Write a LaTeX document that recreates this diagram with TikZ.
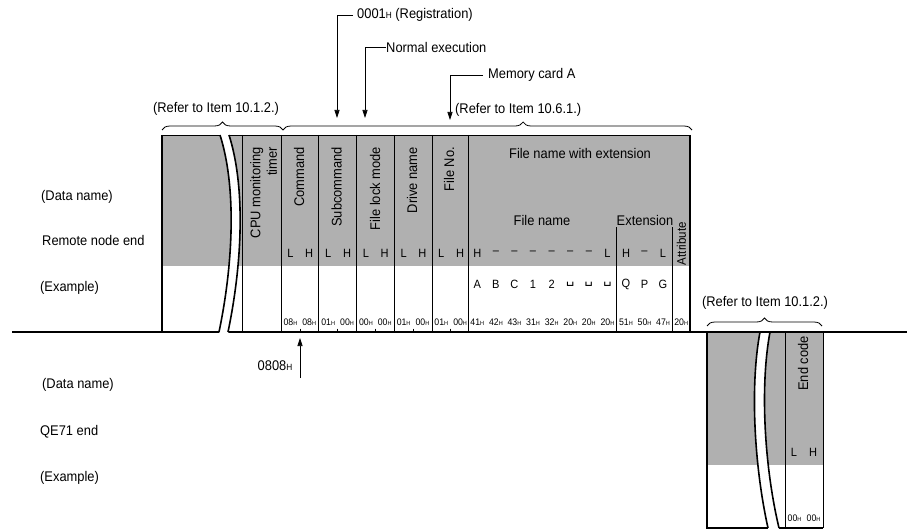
\documentclass[tikz,border=0pt]{standalone}
\usepackage{fontspec}
\setmainfont{Liberation Sans}[FakeStretch=0.92]
\newfontfamily\vsfont{DejaVu Sans}
\usetikzlibrary{arrows.meta,decorations.pathreplacing}
\newcommand\fs[1]{\fontsize{#1}{#1}\selectfont}
\newcommand\bigH{{\fs{9}H}}
\newcommand\hx[1]{#1{\fs{6}H}}
\newcommand\vsp{{\vsfont\fs{13}␣}}
\tikzset{
  rottxt/.style={rotate=90, anchor=east},
  lhtxt/.style={font=\fs{12}},
  hextxt/.style={font=\fs{9.5}},
  thinln/.style={line width=0.7pt},
  thickln/.style={line width=1.6pt},
  shade/.style={fill=black!31},
  arr/.style={line width=0.7pt, -{Triangle[length=8pt,width=5pt]}},
  brc/.style={decorate, line width=0.8pt},
}
\begin{document}
\begin{tikzpicture}[x=1pt,y=-1pt, every node/.style={inner sep=0pt, font=\fs{14}}]
\useasboundingbox (0,0) rectangle (907,532);

% ---------- shading ----------
\fill[shade] (161.7,135) rectangle (690,266);
\fill[shade] (707,332) rectangle (823,465);

% ---------- main line ----------
\draw[thickln] (12,332) -- (907,332);

% ---------- break gaps ----------
\fill[white] (220,135) .. controls (236,185) and (234,260) .. (219,334) -- (228,334) .. controls (243,260) and (245,185) .. (229,135) -- cycle;
\fill[white] (760,333) .. controls (750,385) and (754,465) .. (768,530) -- (779,530) .. controls (764,465) and (760,385) .. (770,333) -- cycle;

% ---------- main table ----------
\draw[thickln] (161.7,135) -- (161.7,332);
\draw[thickln] (690,135) -- (690,332);
\draw[thinln] (161.7,135) -- (220,135) (229,135) -- (690,135);
\foreach \x in {242.7,281,318.8,356.5,394.2,431.9,468}
  \draw[thinln] (\x,135) -- (\x,332);
\draw[thinln] (616.7,227) -- (616.7,332) (672.3,227) -- (672.3,332);
\draw[thickln] (220,135) .. controls (236,185) and (234,260) .. (219,332);
\draw[thickln] (229,135) .. controls (245,185) and (243,260) .. (228,332);
\foreach \x in {299.9,337.7,375.4,413.1,450}
  \draw[line width=0.5pt] (\x,328.5) -- (\x,332);

% ---------- QE71 table ----------
\draw[thickln] (707,332) -- (707,528) -- (768,528);
\draw[thickln] (779,528) -- (823,528);
\draw[line width=1pt] (823,332) -- (823,528);
\draw[thinln] (785,332) -- (785,528);
\draw[thickln] (760,332) .. controls (750,385) and (754,465) .. (768,528);
\draw[thickln] (770,332) .. controls (760,385) and (764,465) .. (779,528);

% ---------- braces ----------
\draw[brc, decoration={brace, amplitude=8pt}] (162,130) -- (283,130);
\draw[brc, decoration={brace, amplitude=8pt, aspect=0.587}] (283,130) -- (692,130);
\draw[brc, decoration={brace, amplitude=8pt}] (707,326) -- (822,326);

\node (ref1) at (216,109) {(Refer to Item 10.1.2.)};
\node[anchor=west] (ref2) at (455,110) {(Refer to Item 10.6.1.)};
\node (ref3) at (765,303) {(Refer to Item 10.1.2.)};

% ---------- top call-outs ----------
\node[anchor=west] (reg) at (357,15) {0001\bigH\ (Registration)};
\node[anchor=west] (nex) at (386,47) {Normal execution};
\node[anchor=west] (mca) at (488,75) {Memory card A};
\coordinate (regtip) at (337,118);
\coordinate (nextip) at (365,118);
\coordinate (mcatip) at (450,120);
\draw[arr] ([xshift=-4pt]reg.west) -| (regtip);
\draw[arr] (nex.west) -| (nextip);
\draw[arr] ([xshift=-5pt]mca.west) -| (mcatip);

% ---------- bottom call-out ----------
\node (v0808) at (275,366) {0808\bigH};
\coordinate (tail0808) at (300,378);
\coordinate (tip0808) at (300,338);
\draw[arr] (tail0808) -- (tip0808);

% ---------- left labels ----------
\node[anchor=west] (dn1) at (41,197) {(Data name)};
\node[anchor=west] (rne) at (42,240) {Remote node end};
\node[anchor=west] (ex1) at (40,288) {(Example)};
\node[anchor=west] (dn2) at (42,385) {(Data name)};
\node[anchor=west] (qe) at (40,432) {QE71 end};
\node[anchor=west] (ex2) at (40,478) {(Example)};

% ---------- headers ----------
\node[rottxt, align=right, font=\fontsize{14}{16.5}\selectfont] (cpu) at (263.5,147) {CPU monitoring\\timer};
\node[rottxt] (cmd) at (299,147) {Command};
\node[rottxt] (sub) at (336.5,147) {Subcommand};
\node[rottxt] (flm) at (375,147) {File lock mode};
\node[rottxt] (drv) at (412,147) {Drive name};
\node[rottxt] (fno) at (449,147) {File No.};
\node (fnwe) at (580,153) {File name with extension};
\node (fn) at (542,220) {File name};
\node (ext) at (645,220) {Extension};
\node[rottxt, font=\fs{12.5}] (attr) at (681.5,222) {Attribute};
\node[rottxt] (endc) at (803,336) {End code};

% ---------- L / H row ----------
\foreach \xl [count=\i] in {281,318.8,356.5,394.2,431.9} {
  \node[lhtxt] (L\i) at (\xl+9.4,253) {L};
  \node[lhtxt] (H\i) at (\xl+28.2,253) {H};
}
\node[lhtxt] (fnH) at (477.3,253) {H};
\foreach \k in {2,...,7}
  \node[lhtxt] (fnd\k) at (468+18.59*\k-9.3,253) {–};
\node[lhtxt] (fnL) at (607.4,253) {L};
\node[lhtxt] (exH) at (626,253) {H};
\node[lhtxt] (exd) at (644.5,253) {–};
\node[lhtxt] (exL) at (663,253) {L};
\node[lhtxt] (qL) at (794,452) {L};
\node[lhtxt] (qH) at (813,452) {H};

% ---------- example characters ----------
\foreach \c [count=\k] in {A,B,C,1,2,\vsp,\vsp,\vsp}
  \node[lhtxt] (ch\k) at (468+18.59*\k-9.3,284) {\c};
\foreach \c [count=\k] in {Q,P,G}
  \node[lhtxt] (ec\k) at (616.7+18.53*\k-9.27,284) {\c};

% ---------- hex values ----------
\foreach \xl/\a/\b [count=\i] in {281/08/08,318.8/01/00,356.5/00/00,394.2/01/00,431.9/01/00} {
  \node[hextxt] (ha\i) at (\xl+9.4,322) {\hx{\a}};
  \node[hextxt] (hb\i) at (\xl+28.2,322) {\hx{\b}};
}
\foreach \v [count=\k] in {41,42,43,31,32,20,20,20}
  \node[hextxt] (fh\k) at (468+18.59*\k-9.3,322) {\hx{\v}};
\foreach \v [count=\k] in {51,50,47}
  \node[hextxt] (eh\k) at (616.7+18.53*\k-9.27,322) {\hx{\v}};
\node[hextxt] (ah) at (681.2,322) {\hx{20}};
\node[hextxt] (qa) at (794.5,518) {\hx{00}};
\node[hextxt] (qb) at (813.5,518) {\hx{00}};
\end{tikzpicture}
\end{document}
